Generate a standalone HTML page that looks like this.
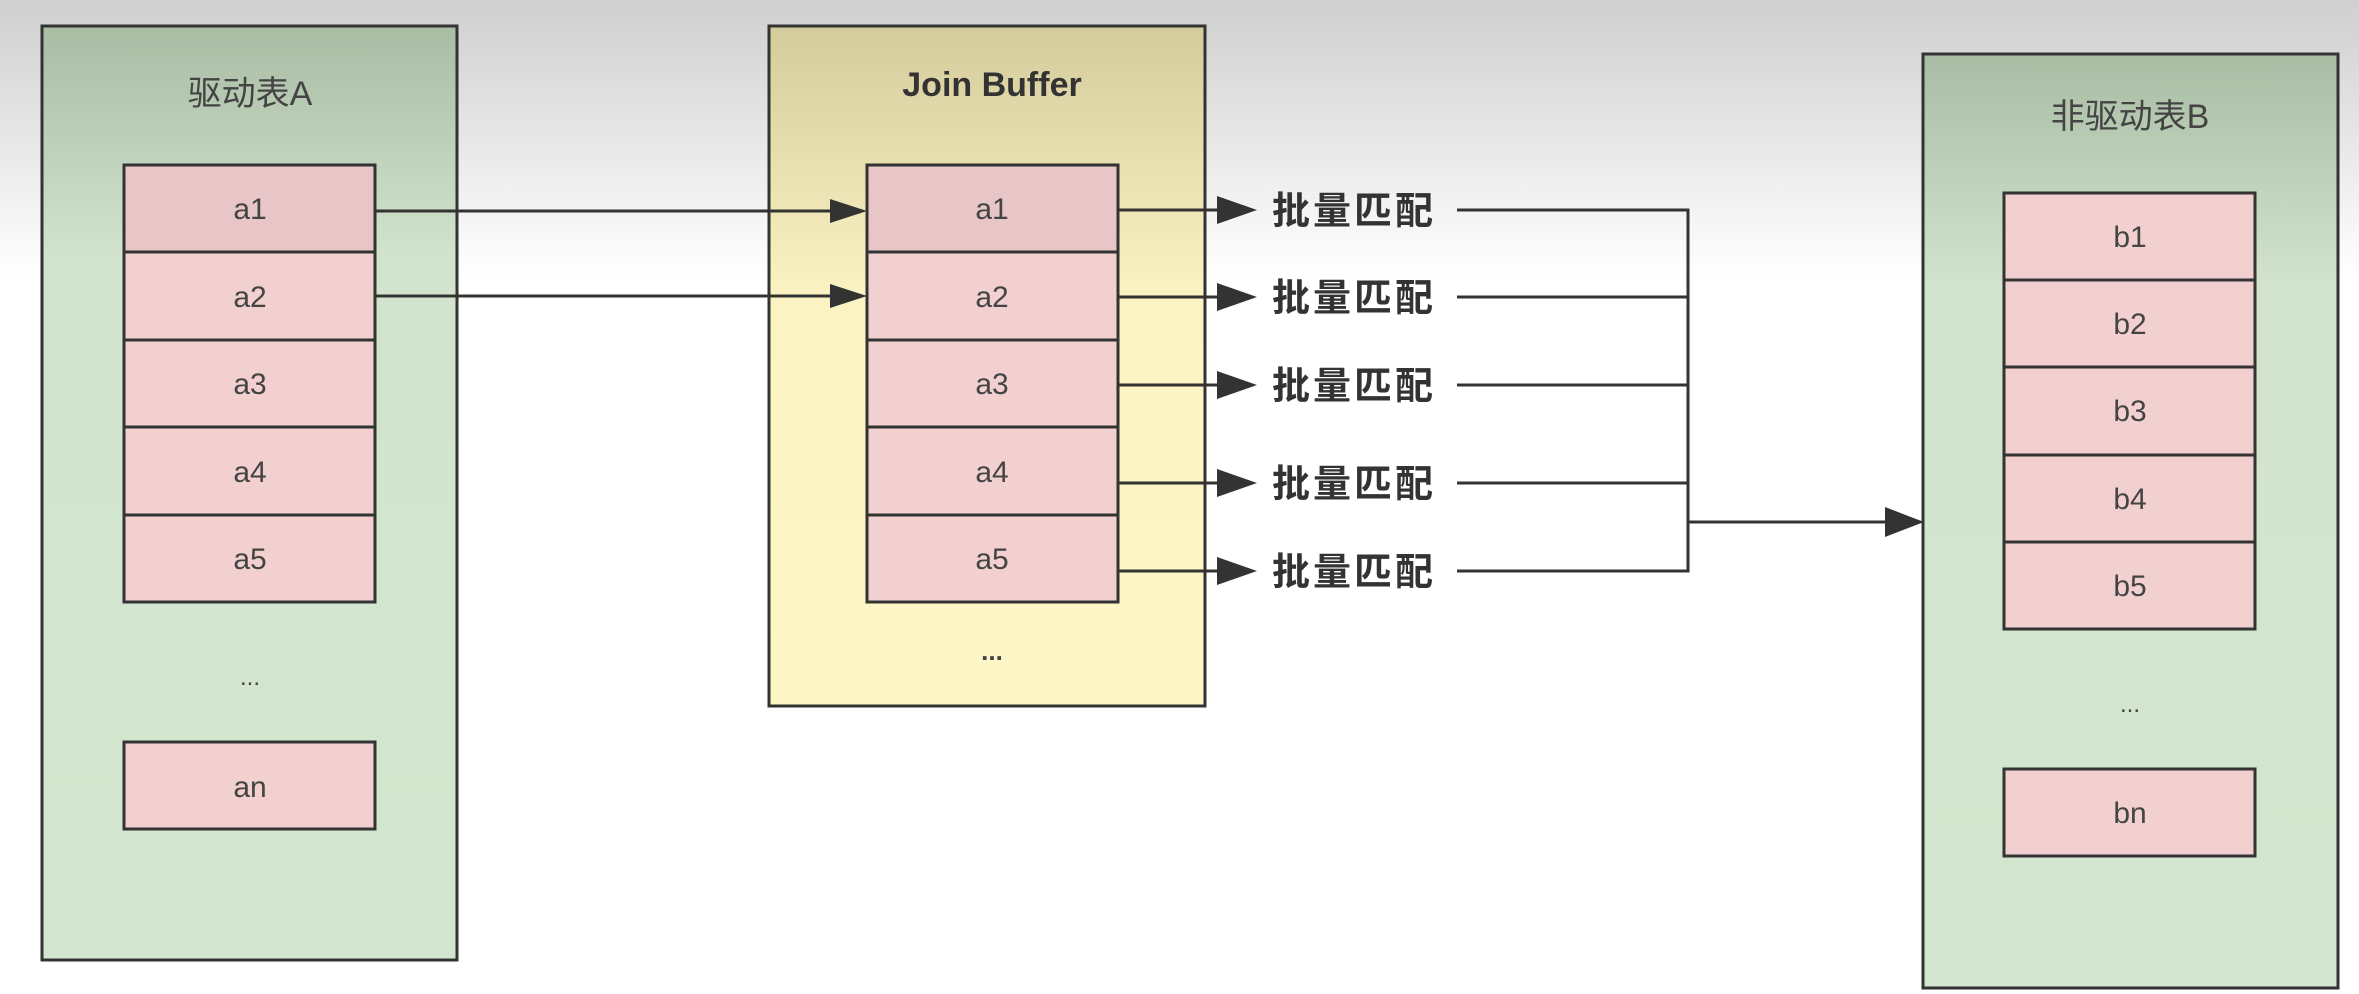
<!DOCTYPE html>
<html><head><meta charset="utf-8"><style>
html,body{margin:0;padding:0;width:2359px;height:994px;overflow:hidden;background:#fff}
svg{display:block}
text{font-family:"Liberation Sans","Noto Sans CJK SC",sans-serif;}
</style></head><body>
<svg width="2359" height="994" viewBox="0 0 2359 994" xmlns="http://www.w3.org/2000/svg">
<defs>
<linearGradient id="bg" x1="0" y1="0" x2="0" y2="1">
<stop offset="0" stop-color="#cfcfcf"/><stop offset="0.28" stop-color="#ffffff"/><stop offset="1" stop-color="#ffffff"/>
</linearGradient>
<linearGradient id="gA" x1="0" y1="0" x2="0" y2="1">
<stop offset="0" stop-color="#a9bca4"/><stop offset="0.25" stop-color="#d2e4cd"/><stop offset="1" stop-color="#d3e6cf"/>
</linearGradient>
<linearGradient id="gJ" x1="0" y1="0" x2="0" y2="1">
<stop offset="0" stop-color="#d4cc9c"/><stop offset="0.4" stop-color="#fbf3c3"/><stop offset="1" stop-color="#fdf6c6"/>
</linearGradient>
</defs>
<rect width="2359" height="994" fill="url(#bg)"/>

<!-- Box A -->
<rect x="42" y="26" width="415" height="934" fill="url(#gA)" stroke="#333" stroke-width="3"/>
<text x="250" y="105" font-size="34" fill="#444" text-anchor="middle">驱动表A</text>
<g stroke="#333" stroke-width="3" fill="#f3d0d0">
<rect x="124" y="165" width="251" height="87" fill="#e8c5c6"/>
<rect x="124" y="252" width="251" height="88"/>
<rect x="124" y="340" width="251" height="87"/>
<rect x="124" y="427" width="251" height="88"/>
<rect x="124" y="515" width="251" height="87"/>
<rect x="124" y="742" width="251" height="87"/>
</g>
<g font-size="30" fill="#444" text-anchor="middle">
<text x="250" y="219">a1</text><text x="250" y="307">a2</text><text x="250" y="394">a3</text>
<text x="250" y="482">a4</text><text x="250" y="569">a5</text><text x="250" y="685" font-size="24">...</text>
<text x="250" y="797">an</text>
</g>

<!-- Join Buffer -->
<rect x="769" y="26" width="436" height="680" fill="url(#gJ)" stroke="#333" stroke-width="3"/>
<text x="992" y="96" font-size="34" font-weight="bold" fill="#333" text-anchor="middle">Join Buffer</text>
<g stroke="#333" stroke-width="3" fill="#f3d0d0">
<rect x="867" y="165" width="251" height="87" fill="#e8c5c6"/>
<rect x="867" y="252" width="251" height="88"/>
<rect x="867" y="340" width="251" height="87"/>
<rect x="867" y="427" width="251" height="88"/>
<rect x="867" y="515" width="251" height="87"/>
</g>
<g font-size="30" fill="#444" text-anchor="middle">
<text x="992" y="219">a1</text><text x="992" y="307">a2</text><text x="992" y="394">a3</text>
<text x="992" y="482">a4</text><text x="992" y="569">a5</text>
<text x="992" y="660" font-size="26" font-weight="bold">...</text>
</g>

<g stroke="#333" stroke-width="3" fill="none">
<line x1="375" y1="211" x2="835" y2="211"/>
<line x1="375" y1="296" x2="835" y2="296"/>
</g>
<g fill="#333">
<polygon points="830,199 867,211 830,223"/>
<polygon points="830,284 867,296 830,308"/>
</g>

<g stroke="#333" stroke-width="3" fill="none">
<line x1="1118" y1="210" x2="1225" y2="210"/>
<line x1="1118" y1="297" x2="1225" y2="297"/>
<line x1="1118" y1="385" x2="1225" y2="385"/>
<line x1="1118" y1="483" x2="1225" y2="483"/>
<line x1="1118" y1="571" x2="1225" y2="571"/>
<polyline points="1457,210 1688,210 1688,571 1457,571"/>
<line x1="1457" y1="297" x2="1688" y2="297"/>
<line x1="1457" y1="385" x2="1688" y2="385"/>
<line x1="1457" y1="483" x2="1688" y2="483"/>
<line x1="1688" y1="522" x2="1890" y2="522"/>
</g>
<g fill="#333">
<polygon points="1217,196 1257,210 1217,224"/>
<polygon points="1217,283 1257,297 1217,311"/>
<polygon points="1217,371 1257,385 1217,399"/>
<polygon points="1217,469 1257,483 1217,497"/>
<polygon points="1217,557 1257,571 1217,585"/>
<polygon points="1885,507 1924,522 1885,537"/>
</g>
<g font-size="38" font-weight="bold" fill="#333" letter-spacing="3">
<text x="1272" y="224">批量匹配</text>
<text x="1272" y="311">批量匹配</text>
<text x="1272" y="399">批量匹配</text>
<text x="1272" y="497">批量匹配</text>
<text x="1272" y="585">批量匹配</text>
</g>

<!-- Box B -->
<rect x="1923" y="54" width="415" height="934" fill="url(#gA)" stroke="#333" stroke-width="3"/>
<text x="2130" y="128" font-size="34" fill="#444" text-anchor="middle">非驱动表B</text>
<g stroke="#333" stroke-width="3" fill="#f3d0d0">
<rect x="2004" y="193" width="251" height="87"/>
<rect x="2004" y="280" width="251" height="87"/>
<rect x="2004" y="367" width="251" height="88"/>
<rect x="2004" y="455" width="251" height="87"/>
<rect x="2004" y="542" width="251" height="87"/>
<rect x="2004" y="769" width="251" height="87"/>
</g>
<g font-size="30" fill="#444" text-anchor="middle">
<text x="2130" y="247">b1</text><text x="2130" y="334">b2</text><text x="2130" y="421">b3</text>
<text x="2130" y="509">b4</text><text x="2130" y="596">b5</text><text x="2130" y="712" font-size="24">...</text>
<text x="2130" y="823">bn</text>
</g>
</svg>
</body></html>
